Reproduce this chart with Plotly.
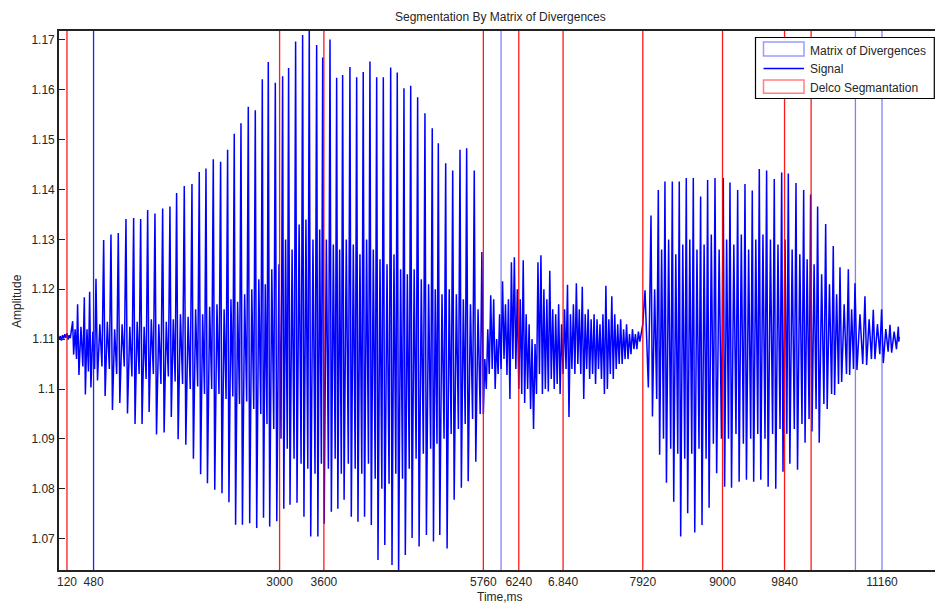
import plotly.graph_objects as go

# ---------------- data ----------------
# quiet lead-in before the first voiced segment (time ms, amplitude)
lead_t = [12, 30, 45, 60, 75, 90, 105, 120, 135, 150, 165, 180]
lead_v = [1.1100, 1.1106, 1.1097, 1.1108, 1.1101, 1.1110, 1.1103, 1.1112, 1.1099, 1.1108, 1.1102, 1.1115]

# first voiced segment: one entry per pitch cycle
seg1_top_t = [197, 264, 355, 427, 513, 617, 716, 815, 919, 1023,
              1118, 1213, 1312, 1416, 1515, 1605, 1709, 1813, 1912, 2003,
              2102, 2201, 2296, 2386, 2477, 2576, 2671, 2766, 2847, 2942,
              3041, 3122, 3217, 3312, 3402, 3502, 3584, 3683, 3773, 3854,
              3953, 4044, 4133, 4224, 4315, 4405, 4505, 4594, 4685, 4776,
              4870, 4969, 5068, 5150, 5250, 5345, 5444, 5534, 5637]
seg1_top_v = [1.1136, 1.1170, 1.1184, 1.1195, 1.1221, 1.1299, 1.1310, 1.1313, 1.1341, 1.1343,
              1.1341, 1.1359, 1.1352, 1.1362, 1.1366, 1.1393, 1.1407, 1.1411, 1.1435, 1.1442,
              1.1461, 1.1456, 1.1480, 1.1512, 1.1533, 1.1566, 1.1559, 1.1621, 1.1656, 1.1614,
              1.1627, 1.1644, 1.1697, 1.1710, 1.1725, 1.1690, 1.1665, 1.1701, 1.1624, 1.1630,
              1.1646, 1.1625, 1.1636, 1.1657, 1.1625, 1.1625, 1.1645, 1.1635, 1.1603, 1.1608,
              1.1585, 1.1553, 1.1523, 1.1493, 1.1453, 1.1438, 1.1480, 1.1483, 1.1438]
seg1_low_v = [1.1069, 1.1028, 1.0989, 1.1003, 1.1017, 1.0986, 1.0958, 1.0972, 1.0951, 1.0930,
              1.0930, 1.0954, 1.0909, 1.0913, 1.0944, 1.0899, 1.0888, 1.0860, 1.0829, 1.0811,
              1.0798, 1.0791, 1.0773, 1.0728, 1.0728, 1.0731, 1.0721, 1.0742, 1.0724, 1.0735,
              1.0760, 1.0768, 1.0772, 1.0744, 1.0704, 1.0704, 1.0730, 1.0754, 1.0760, 1.0778,
              1.0744, 1.0734, 1.0744, 1.0727, 1.0657, 1.0687, 1.0647, 1.0630, 1.0667, 1.0701,
              1.0684, 1.0707, 1.0694, 1.0707, 1.0680, 1.0778, 1.0802, 1.0815, 1.0854]
seg1_mid_hi = [1.1120, 1.1125, 1.1120, 1.1115, 1.1130, 1.1135, 1.1120, 1.1130, 1.1125, 1.1135,
               1.1125, 1.1140, 1.1130, 1.1135, 1.1140, 1.1150, 1.1145, 1.1160, 1.1150, 1.1165,
               1.1170, 1.1160, 1.1180, 1.1175, 1.1190, 1.1200, 1.1220, 1.1210, 1.1240, 1.1250,
               1.1300, 1.1280, 1.1330, 1.1340, 1.1300, 1.1320, 1.1300, 1.1290, 1.1280, 1.1300,
               1.1290, 1.1270, 1.1300, 1.1280, 1.1260, 1.1250, 1.1270, 1.1240, 1.1230, 1.1240,
               1.1220, 1.1210, 1.1200, 1.1190, 1.1200, 1.1190, 1.1180, 1.1170, 1.1160]
seg1_mid_lo = [1.1060, 1.1045, 1.1035, 1.1040, 1.1045, 1.1040, 1.1030, 1.1045, 1.1025, 1.1030,
               1.1020, 1.1030, 1.1010, 1.1025, 1.1015, 1.1010, 1.1000, 1.1005, 1.0990, 1.1000,
               1.0990, 1.0980, 1.0985, 1.0970, 1.0975, 1.0960, 1.0950, 1.0930, 1.0920, 1.0900,
               1.0880, 1.0860, 1.0850, 1.0840, 1.0830, 1.0850, 1.0840, 1.0860, 1.0830, 1.0850,
               1.0840, 1.0830, 1.0850, 1.0820, 1.0800, 1.0810, 1.0830, 1.0820, 1.0840, 1.0860,
               1.0870, 1.0880, 1.0890, 1.0900, 1.0910, 1.0920, 1.0930, 1.0940, 1.0950]

# unvoiced (noisy) stretch, sampled every 20 ms from 5740 ms
noise_start = 5740
noise_step = 20
noise_v = [1.1275, 1.0950, 1.1060, 1.1000, 1.1120, 1.1030, 1.1188, 1.1040, 1.1180, 1.1000,
           1.1100, 1.1030, 1.1150, 1.1040, 1.1216, 1.1060, 1.1170, 1.1028, 1.1180, 1.0980,
           1.1254, 1.1060, 1.1264, 1.1040, 1.1200, 1.1000, 1.1180, 1.0990, 1.1258, 1.0972,
           1.1150, 1.1000, 1.1130, 1.0960, 1.1100, 1.0920, 1.1090, 1.0990, 1.1254, 1.1030,
           1.1268, 1.0990, 1.1200, 1.1000, 1.1180, 1.0995, 1.1237, 1.1020, 1.1160, 1.1000,
           1.1150, 1.1010, 1.1170, 1.0990, 1.1130, 1.1030, 1.1160, 1.1040, 1.1209, 1.0944,
           1.1150, 1.1040, 1.1170, 1.1030, 1.1212, 1.1050, 1.1160, 1.1030, 1.1205, 1.0980,
           1.1150, 1.1040, 1.1160, 1.1020, 1.1140, 1.1030, 1.1150, 1.1010, 1.1140, 1.1040,
           1.1130, 1.1020, 1.1150, 1.0990, 1.1207, 1.1000, 1.1140, 1.1030, 1.1186, 1.1020,
           1.1150, 1.1040, 1.1130, 1.1050, 1.1140, 1.1050, 1.1120, 1.1060, 1.1130, 1.1060,
           1.1110, 1.1070, 1.1120, 1.1080, 1.1110, 1.1080, 1.1115, 1.1095, 1.1110]

# onset of second voiced segment
intro2_t = [7920, 7950, 7975, 7995, 8012]
intro2_v = [1.1130, 1.1198, 1.1080, 1.1003, 1.1150]

# second voiced segment: one entry per pitch cycle
seg2_top_t = [8031, 8130, 8220, 8320, 8414, 8509, 8604, 8703, 8798, 8898,
              9010, 9101, 9205, 9304, 9403, 9498, 9597, 9701, 9801, 9891,
              9995, 10099, 10193, 10288, 10397, 10500, 10591, 10704, 10794, 10929,
              11042, 11155, 11268]
seg2_top_v = [1.1348, 1.1399, 1.1416, 1.1416, 1.1416, 1.1423, 1.1423, 1.1386, 1.1419, 1.1423,
              1.1423, 1.1414, 1.1399, 1.1411, 1.1398, 1.1441, 1.1438, 1.1421, 1.1434, 1.1432,
              1.1413, 1.1399, 1.1390, 1.1366, 1.1331, 1.1287, 1.1244, 1.1240, 1.1212, 1.1186,
              1.1159, 1.1160, 1.1129]
seg2_low_v = [1.0945, 1.0868, 1.0812, 1.0774, 1.0704, 1.0751, 1.0712, 1.0727, 1.0762, 1.0831,
              1.0804, 1.0802, 1.0814, 1.0818, 1.0814, 1.0818, 1.0804, 1.0800, 1.0834, 1.0850,
              1.0838, 1.0892, 1.0915, 1.0892, 1.0960, 1.0988, 1.1014, 1.1028, 1.1038, 1.1048,
              1.1060, 1.1052, 1.1073]
seg2_mid_hi = [1.1200, 1.1280, 1.1300, 1.1270, 1.1290, 1.1300, 1.1280, 1.1290, 1.1310, 1.1280,
               1.1300, 1.1290, 1.1310, 1.1280, 1.1300, 1.1310, 1.1300, 1.1290, 1.1300, 1.1280,
               1.1270, 1.1260, 1.1250, 1.1230, 1.1210, 1.1190, 1.1170, 1.1160, 1.1150, 1.1140,
               1.1130, 1.1120, 1.1115]
seg2_mid_lo = [1.0980, 1.0900, 1.0880, 1.0870, 1.0860, 1.0870, 1.0880, 1.0860, 1.0890, 1.0900,
               1.0900, 1.0910, 1.0890, 1.0900, 1.0910, 1.0900, 1.0910, 1.0920, 1.0910, 1.0920,
               1.0930, 1.0940, 1.0960, 1.0970, 1.0990, 1.1010, 1.1030, 1.1040, 1.1050, 1.1060,
               1.1070, 1.1075, 1.1080]

tail2_t = [11381, 11388, 11394]
tail2_v = [1.1125, 1.1095, 1.1105]

# segmentation boundaries (ms)
divergence_bounds = [480, 6000, 10800, 11160]
delco_bounds = [120, 3000, 3600, 5760, 6240, 6840, 7920, 9000, 9840, 10200]

# axis ticks
x_tick_vals = [120, 480, 3000, 3600, 5760, 6240, 6840, 7920, 9000, 9840, 11160]
x_tick_text = ["120", "480", "3000", "3600", "5760", "6240", "6.840", "7920", "9000", "9840", "11160"]
y_tick_vals = [1.07, 1.08, 1.09, 1.10, 1.11, 1.12, 1.13, 1.14, 1.15, 1.16, 1.17]
y_tick_text = ["1.07", "1.08", "1.09", "1.1", "1.11", "1.12", "1.13", "1.14", "1.15", "1.16", "1.17"]

# ---------------- assemble the signal trace ----------------
def cycles(top_t, top_v, low_v, hi_v, lo_v, end_t):
    xs, ys = [], []
    nxt = top_t[1:] + [end_t]
    for t, n, a, b, c, d in zip(top_t, nxt, top_v, low_v, hi_v, lo_v):
        g = n - t
        xs += [t, t + 0.2 * g, t + 0.5 * g, t + 0.78 * g]
        ys += [a, b, c, d]
    return xs, ys

sx, sy = list(lead_t), list(lead_v)
cx, cy = cycles(seg1_top_t, seg1_top_v, seg1_low_v, seg1_mid_hi, seg1_mid_lo, noise_start)
sx += cx; sy += cy
sx += [noise_start + i * noise_step for i in range(len(noise_v))]; sy += noise_v
sx += intro2_t; sy += intro2_v
cx, cy = cycles(seg2_top_t, seg2_top_v, seg2_low_v, seg2_mid_hi, seg2_mid_lo, tail2_t[0])
sx += cx; sy += cy
sx += tail2_t; sy += tail2_v

# ---------------- figure ----------------
W, H = 935, 608
L, R, T, B = 59, 0, 31, 38
PW, PH = W - L - R, H - T - B

def px(xp):
    return (xp - L) / PW

def py(yp):
    return (H - B - yp) / PH

FONT = "Liberation Sans, Arial, sans-serif"
TXT = "#262626"

fig = go.Figure()
fig.add_trace(go.Scatter(x=sx, y=sy, mode="lines",
                         line=dict(color="#0000FF", width=1.5),
                         name="Signal", showlegend=False, hoverinfo="skip"))

shapes = []
for xv in delco_bounds:
    shapes.append(dict(type="line", xref="x", yref="paper", x0=xv, x1=xv, y0=0, y1=1,
                       line=dict(color="rgba(255,0,0,0.9)", width=1.3), layer="above"))
for xv in divergence_bounds:
    col = "rgba(20,20,255,0.95)" if xv == divergence_bounds[0] else "rgba(0,0,255,0.5)"
    shapes.append(dict(type="line", xref="x", yref="paper", x0=xv, x1=xv, y0=0, y1=1,
                       line=dict(color=col, width=1.3), layer="above"))

# legend box (drawn by hand to match the reference layout)
shapes.append(dict(type="rect", xref="paper", yref="paper",
                   x0=px(755.5), x1=px(934.3), y0=py(98.5), y1=py(37.5),
                   line=dict(color="#000000", width=1.2), fillcolor="white", layer="above"))
shapes.append(dict(type="rect", xref="paper", yref="paper",
                   x0=px(763.5), x1=px(804), y0=py(56), y1=py(42),
                   line=dict(color="rgba(0,0,255,0.4)", width=1.5), fillcolor="white", layer="above"))
shapes.append(dict(type="line", xref="paper", yref="paper",
                   x0=px(763.5), x1=px(804), y0=py(68.5), y1=py(68.5),
                   line=dict(color="#0000FF", width=1.3), layer="above"))
shapes.append(dict(type="rect", xref="paper", yref="paper",
                   x0=px(763.5), x1=px(804), y0=py(93.3), y1=py(80),
                   line=dict(color="rgba(255,0,0,0.5)", width=1.5), fillcolor="white", layer="above"))

annotations = []
for label, yy in [("Matrix of Divergences", 50.5), ("Signal", 69.5), ("Delco Segmantation", 87.5)]:
    annotations.append(dict(text=label, xref="paper", yref="paper", x=px(807.5), y=py(yy),
                            xanchor="left", yanchor="middle", showarrow=False,
                            font=dict(family=FONT, size=12, color=TXT)))
annotations.append(dict(text="Segmentation By Matrix of Divergences", xref="paper", yref="paper",
                        x=px(500.5), y=py(17), xanchor="center", yanchor="middle", showarrow=False,
                        font=dict(family=FONT, size=12, color=TXT)))
annotations.append(dict(text="Time,ms", xref="paper", yref="paper",
                        x=px(500), y=py(597), xanchor="center", yanchor="middle", showarrow=False,
                        font=dict(family=FONT, size=12, color=TXT)))
annotations.append(dict(text="Amplitude", xref="paper", yref="paper", textangle=-90,
                        x=px(17), y=py(301), xanchor="center", yanchor="middle", showarrow=False,
                        font=dict(family=FONT, size=12, color=TXT)))

fig.update_layout(
    width=W, height=H,
    margin=dict(l=L, r=R, t=T, b=B, pad=0),
    paper_bgcolor="white", plot_bgcolor="white",
    showlegend=False,
    font=dict(family=FONT, size=12, color=TXT),
    shapes=shapes, annotations=annotations,
    xaxis=dict(range=[12, 11878], tickvals=x_tick_vals, ticktext=x_tick_text,
               ticks="", showgrid=False, zeroline=False,
               showline=True, linecolor="#222222", linewidth=1.6, mirror=True,
               tickfont=dict(family=FONT, size=12, color=TXT)),
    yaxis=dict(range=[1.0637, 1.1718], tickvals=y_tick_vals, ticktext=y_tick_text,
               ticks="inside", ticklen=6, tickcolor="#222222", tickwidth=1,
               showgrid=False, zeroline=False,
               showline=True, linecolor="#222222", linewidth=1.6, mirror=False,
               tickfont=dict(family=FONT, size=12, color=TXT)),
)

fig.write_html("out.html", config={"displayModeBar": False},
               post_script="document.body.style.margin='0';document.body.style.overflow='hidden';")
